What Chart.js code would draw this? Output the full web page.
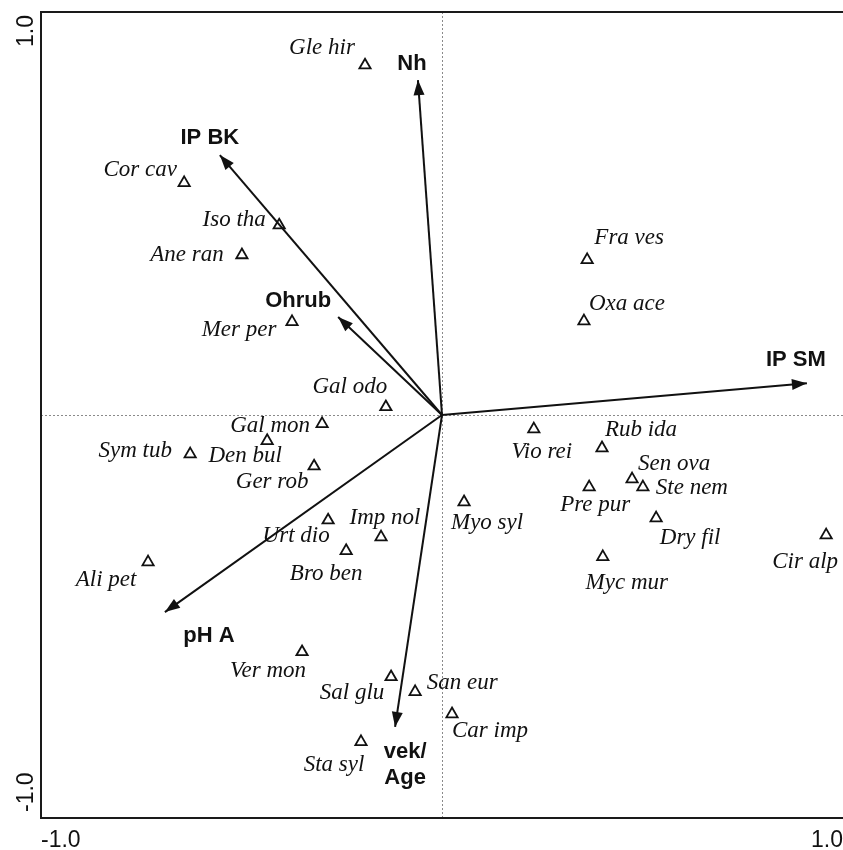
<!DOCTYPE html>
<html>
<head>
<meta charset="utf-8">
<script src="https://cdn.jsdelivr.net/npm/chart.js@4/dist/chart.umd.min.js"></script>
<style>
  html, body { margin: 0; padding: 0; background: #fff; overflow: hidden; }
  #chart { display: block; }
</style>
</head>
<body>
<canvas id="chart" width="843" height="850"></canvas>
<script>
// species scores (axis 1, axis 2)
const species = ['Gle hir', 'Cor cav', 'Iso tha', 'Ane ran', 'Mer per', 'Gal odo', 'Gal mon', 'Den bul',
  'Sym tub', 'Ger rob', 'Urt dio', 'Imp nol', 'Bro ben', 'Ali pet', 'Vio rei', 'Rub ida', 'Sen ova',
  'Ste nem', 'Pre pur', 'Myo syl', 'Dry fil', 'Myc mur', 'Cir alp', 'Fra ves', 'Oxa ace', 'Ver mon',
  'Sal glu', 'San eur', 'Car imp', 'Sta syl'];
const speciesAx1 = [-0.192, -0.643, -0.406, -0.499, -0.374, -0.140, -0.299, -0.436,
  -0.628, -0.319, -0.284, -0.152, -0.239, -0.733, 0.229, 0.399, 0.474,
  0.501, 0.367, 0.055, 0.534, 0.401, 0.958, 0.362, 0.354, -0.349,
  -0.127, -0.067, 0.025, -0.202];
const speciesAx2 = [0.868, 0.576, 0.471, 0.397, 0.231, 0.020, -0.022, -0.064,
  -0.097, -0.127, -0.261, -0.303, -0.337, -0.365, -0.035, -0.082, -0.159,
  -0.179, -0.179, -0.216, -0.256, -0.352, -0.298, 0.385, 0.233, -0.588,
  -0.650, -0.687, -0.742, -0.811];

// environmental variables (arrow tips)
const envVars = ['Nh', 'IP BK', 'Ohrub', 'IP SM', 'pH A', 'vek/\nAge'];
const envAx1 = [-0.060, -0.554, -0.259, 0.910, -0.691, -0.117];
const envAx2 = [0.831, 0.645, 0.243, 0.079, -0.489, -0.774];

const tickValues = [-1.0, 1.0];
const tickLabels = ['-1.0', '1.0'];

// label placement relative to the marker (px)
const speciesLabelOffsets = [[-43, -17], [-44, -13], [-45, -5], [-55, 0], [-53, 8], [-36, -20], [-52, 2], [-22, 15],
  [-55, -3], [-42, 16], [-32, 16], [4, -19], [-20, 23], [-42, 18], [8, 23], [39, -18], [42, -15],
  [49, 1], [6, 18], [23, 21], [34, 20], [24, 26], [-21, 27], [42, -22], [43, -17], [-34, 19],
  [-39, 16], [47, -9], [38, 17], [-27, 23]];
const envLabelOffsets = [[-6, -16], [-10, -17], [-40, -16], [-11, -23], [44, 24], [10, 25]];

const serif = 'italic 23px "Liberation Serif", "Times New Roman", serif';
const sansBold = 'bold 22px "Liberation Sans", Arial, sans-serif';
const sans = '23px "Liberation Sans", Arial, sans-serif';

const arrowSets = envVars.map((name, i) => ({
  label: name,
  type: 'line',
  data: [{ x: 0, y: 0 }, { x: envAx1[i], y: envAx2[i] }],
  borderColor: '#111',
  borderWidth: 2,
  pointRadius: 0,
  fill: false
}));

const biplotDecor = {
  id: 'biplotDecor',
  beforeDatasetsDraw(chart) {
    const { ctx, chartArea: a, scales: { x, y } } = chart;
    ctx.save();
    // zero lines
    ctx.strokeStyle = '#8a8a8a';
    ctx.lineWidth = 1;
    ctx.setLineDash([2, 2]);
    ctx.beginPath();
    const x0 = Math.round(x.getPixelForValue(0)) + 0.5;
    const y0 = Math.round(y.getPixelForValue(0)) + 0.5;
    ctx.moveTo(x0, a.top); ctx.lineTo(x0, a.bottom);
    ctx.moveTo(a.left, y0); ctx.lineTo(a.right, y0);
    ctx.stroke();
    // frame (right edge falls outside the picture)
    ctx.setLineDash([]);
    ctx.strokeStyle = '#1a1a1a';
    ctx.lineWidth = 2;
    ctx.beginPath();
    ctx.moveTo(a.right + 2, a.top); ctx.lineTo(a.left, a.top);
    ctx.lineTo(a.left, a.bottom); ctx.lineTo(a.right + 2, a.bottom);
    ctx.stroke();
    ctx.restore();
  },
  afterDatasetsDraw(chart) {
    const { ctx } = chart;
    ctx.save();
    // arrowheads + env labels
    envVars.forEach((name, i) => {
      const pts = chart.getDatasetMeta(i + 1).data;
      const p0 = pts[0], p1 = pts[1];
      const ang = Math.atan2(p1.y - p0.y, p1.x - p0.x);
      const len = 15, half = 5.5;
      ctx.fillStyle = '#111';
      ctx.beginPath();
      ctx.moveTo(p1.x, p1.y);
      ctx.lineTo(p1.x - len * Math.cos(ang) + half * Math.sin(ang), p1.y - len * Math.sin(ang) - half * Math.cos(ang));
      ctx.lineTo(p1.x - len * Math.cos(ang) - half * Math.sin(ang), p1.y - len * Math.sin(ang) + half * Math.cos(ang));
      ctx.closePath();
      ctx.fill();

      ctx.font = sansBold;
      ctx.textAlign = 'center';
      ctx.textBaseline = 'middle';
      const lines = name.split('\n');
      const [dx, dy] = envLabelOffsets[i];
      lines.forEach((ln, k) => ctx.fillText(ln, p1.x + dx, p1.y + dy + k * 26));
    });
    // species labels
    const sp = chart.getDatasetMeta(0).data;
    ctx.font = serif;
    ctx.fillStyle = '#111';
    ctx.textAlign = 'center';
    ctx.textBaseline = 'middle';
    species.forEach((name, i) => {
      const [dx, dy] = speciesLabelOffsets[i];
      ctx.fillText(name, sp[i].x + dx, sp[i].y + dy);
    });
    ctx.restore();
  },
  afterDraw(chart) {
    const { ctx, scales: { x, y } } = chart;
    ctx.save();
    ctx.font = sans;
    ctx.fillStyle = '#111';
    ctx.textBaseline = 'alphabetic';
    // x tick labels
    tickValues.forEach((v, i) => {
      const px = x.getPixelForValue(v);
      ctx.textAlign = i === 0 ? 'left' : 'right';
      ctx.fillText(tickLabels[i], Math.min(px, chart.width), 847);
    });
    // y tick labels, rotated
    tickValues.forEach((v, i) => {
      const py = y.getPixelForValue(v);
      ctx.save();
      ctx.translate(33, i === 0 ? py - 6 : py + 3);
      ctx.rotate(-Math.PI / 2);
      ctx.textAlign = i === 0 ? 'left' : 'right';
      ctx.fillText(tickLabels[i], 0, 0);
      ctx.restore();
    });
    ctx.restore();
  }
};

new Chart(document.getElementById('chart'), {
  type: 'scatter',
  data: {
    datasets: [{
      label: 'species',
      data: species.map((s, i) => ({ x: speciesAx1[i], y: speciesAx2[i] })),
      pointStyle: 'triangle',
      pointRadius: 6.5,
      borderColor: '#111',
      borderWidth: 1.8,
      backgroundColor: 'rgba(255,255,255,0)'
    }, ...arrowSets]
  },
  options: {
    responsive: false,
    animation: false,
    layout: { autoPadding: false, padding: { left: 41, top: 12, right: 0, bottom: 32 } },
    plugins: { legend: { display: false }, tooltip: { enabled: false } },
    scales: {
      x: { type: 'linear', min: -1, max: 1, display: false },
      y: { type: 'linear', min: -1, max: 1, display: false }
    }
  },
  plugins: [biplotDecor]
});
</script>
</body>
</html>
